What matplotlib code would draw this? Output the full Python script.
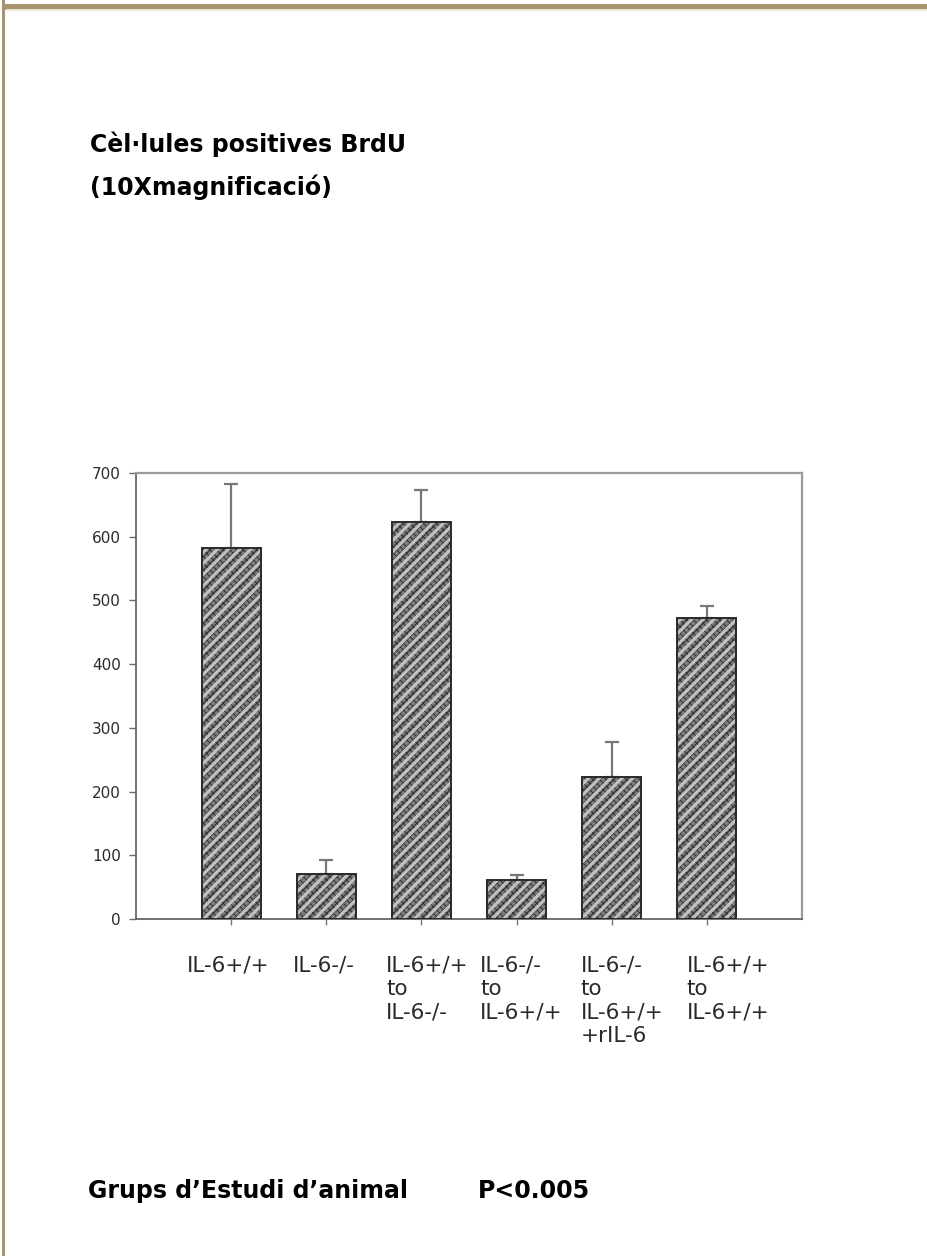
import matplotlib
matplotlib.use("Agg")
import matplotlib.pyplot as plt
from matplotlib.patches import Rectangle
from matplotlib.transforms import ScaledTranslation

# --- Data ---
groups = [
    "IL-6+/+",
    "IL-6-/-",
    "IL-6+/+\nto\nIL-6-/-",
    "IL-6-/-\nto\nIL-6+/+",
    "IL-6-/-\nto\nIL-6+/+\n+rIL-6",
    "IL-6+/+\nto\nIL-6+/+",
]
brdu_cells = [583, 71, 623, 61, 223, 473]
brdu_err = [100, 21, 50, 8, 55, 19]
y_ticks = [0, 100, 200, 300, 400, 500, 600, 700]

title_lines = ["Cèl·lules positives BrdU", "(10Xmagnificació)"]
xlabel_text = "Grups d\u2019Estudi d\u2019animal"
pvalue_text = "P<0.005"

# small horizontal nudges (px) of the category labels, as in the original layout
label_nudge = [-3, -2, 6, 5, 10, 21]

BORDER = "#a89570"
W, H = 927, 1256

fig = plt.figure(figsize=(W / 100, H / 100), dpi=100)
fig.patch.set_facecolor("white")

# page frame (tan band on top and left)
fig.add_artist(Rectangle((2 / W, 0), 3.5 / W, 1, transform=fig.transFigure,
                         facecolor=BORDER, edgecolor="none"))
fig.add_artist(Rectangle((2 / W, 1 - 9.5 / H), 1, 5.5 / H, transform=fig.transFigure,
                         facecolor=BORDER, edgecolor="none"))
fig.add_artist(Rectangle((5.5 / W, 1 - 10.5 / H), 1, 1 / H, transform=fig.transFigure,
                         facecolor="#ebe4d2", edgecolor="none"))

ax = fig.add_axes([136 / W, 1 - 919 / H, (802 - 136) / W, (919 - 473) / H])

x = list(range(len(groups)))

# checker base + light diagonal stripes, like the old Excel fill
plt.rcParams["hatch.linewidth"] = 0.7
ax.bar(x, brdu_cells, width=0.62, color="#7e7e7e", edgecolor="#2e2e2e",
       hatch="xxxxx", linewidth=0, zorder=2)
plt.rcParams["hatch.linewidth"] = 2.2
ax.bar(x, brdu_cells, width=0.62, color="none", edgecolor="#c2c2c2",
       hatch="///", linewidth=0, zorder=3)
ax.bar(x, brdu_cells, width=0.62, color="none", edgecolor="#2a2a2a",
       linewidth=1.4, zorder=4)

ax.errorbar(x, brdu_cells, yerr=[[0] * len(brdu_err), brdu_err], fmt="none",
            ecolor="#777777", elinewidth=1.6, capsize=5, capthick=1.6, zorder=1)

ax.set_xlim(-1, 6)
ax.set_ylim(0, 700)
ax.set_yticks(y_ticks)
ax.set_xticks(x)
ax.set_xticklabels(groups, multialignment="left", linespacing=1.22,
                   fontsize=15.5, color="#2a2a2a", va="top")
ax.tick_params(axis="x", length=4, width=1, color="#777777", pad=22)
ax.tick_params(axis="y", length=5, width=1, color="#666666", pad=6,
               labelsize=11, labelcolor="#2a2a2a")

for lbl, dx in zip(ax.get_xticklabels(), label_nudge):
    lbl.set_transform(lbl.get_transform() + ScaledTranslation(dx / 100, 0, fig.dpi_scale_trans))

for side in ["top", "right"]:
    ax.spines[side].set_color("#9a9a9a")
    ax.spines[side].set_linewidth(1.6)
for side in ["left", "bottom"]:
    ax.spines[side].set_color("#666666")
    ax.spines[side].set_linewidth(1.3)

title_font = dict(family="DejaVu Sans", weight="bold", fontsize=17,
                  color="black", va="baseline", ha="left")
fig.text(90 / W, 1 - 152 / H, title_lines[0], **title_font)
fig.text(90 / W, 1 - 195 / H, title_lines[1], **title_font)
fig.text(88 / W, 1 - 1198 / H, xlabel_text, **title_font)
fig.text(478 / W, 1 - 1198 / H, pvalue_text, **title_font)

fig.savefig("out.png", dpi=100)
